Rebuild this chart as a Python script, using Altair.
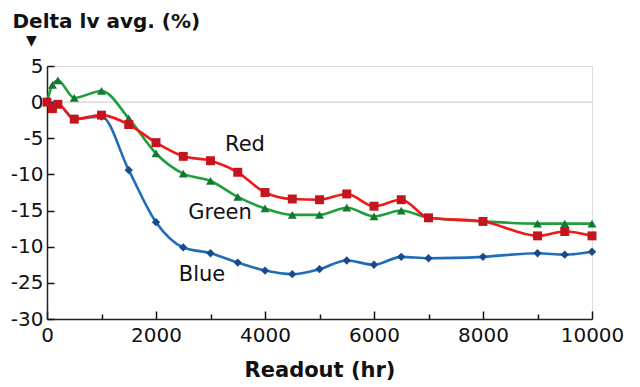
import altair as alt
import pandas as pd

hours = [0, 100, 200, 500, 1000, 1500, 2000, 2500, 3000, 3500, 4000, 4500,
         5000, 5500, 6000, 6500, 7000, 8000, 9000, 9500, 10000]
red = [0, -0.9, -0.3, -2.35, -1.8, -3.1, -5.6, -7.5, -8.1, -9.7, -12.5, -13.4,
       -13.5, -12.7, -14.4, -13.5, -16.0, -16.5, -18.5, -17.9, -18.5]
green = [0, 2.4, 3.0, 0.6, 1.55, -2.25, -7.1, -9.9, -10.9, -13.1, -14.7, -15.6,
         -15.6, -14.6, -15.8, -15.0, -16.0, -16.5, -16.8, -16.8, -16.8]
blue = [0, -0.4, -0.3, -2.3, -2.0, -9.4, -16.6, -20.1, -20.9, -22.2, -23.3, -23.8,
        -23.1, -21.9, -22.5, -21.4, -21.6, -21.4, -20.9, -21.1, -20.7]

label_text = ["Red", "Green", "Blue"]
label_x = [3633, 3174, 2844]
label_y = [-5.9, -15.3, -23.9]

y_ticks = [5, 0, -5, -10, -15, -20, -25, -30]
x_major = [0, 2000, 4000, 6000, 8000, 10000]
x_minor = [1000, 3000, 5000, 7000, 9000]

FONT = "DejaVu Sans"
xs = alt.Scale(domain=[0, 10000], nice=False, zero=False)
ys = alt.Scale(domain=[-30, 5], nice=False, zero=False)

series = [
    ("Blue", blue, "#1f6db8", "#1a4a8c", "diamond", 70),
    ("Green", green, "#1f9e3c", "#127a30", "triangle-up", 80),
    ("Red", red, "#f01818", "#c4141e", "square", 80),
]

layers = []

zero = alt.Chart(pd.DataFrame({"z": [0]})).mark_rule(color="#c8c8c8", strokeWidth=1).encode(
    y=alt.Y("z:Q", scale=ys, axis=None)
)
layers.append(zero)

for i, (name, vals, lc, mc, shape, size) in enumerate(series):
    df = pd.DataFrame({"hr": hours, "v": vals})
    if i == 0:
        xax = alt.Axis(orient="bottom", values=x_major, offset=-8, tickSize=8, tickWidth=1.5,
                       tickColor="#111", domain=False, grid=False, labelFlush=False,
                       labelExpr="toString(datum.value)", labelFont=FONT, labelFontSize=20,
                       labelColor="#111", labelPadding=6,
                       title="Readout (hr)", titleFont=FONT, titleFontSize=21,
                       titleFontWeight="bold", titleColor="#111", titleY=65,
                       titleBaseline="alphabetic")
        yax = alt.Axis(orient="left", values=y_ticks, offset=-7, tickSize=7, tickWidth=1.5,
                       tickColor="#111", domain=False, grid=False, labelFlush=False,
                       labelExpr="datum.value == -20 ? '-10' : toString(datum.value)",
                       labelFont=FONT, labelFontSize=20, labelColor="#111", labelPadding=4,
                       title="Delta lv avg. (%)", titleFont=FONT, titleFontSize=20,
                       titleFontWeight="bold", titleColor="#111", titleAngle=0,
                       titleAlign="left", titleBaseline="alphabetic", titleX=-42, titleY=-39)
    elif i == 1:
        xax = alt.Axis(orient="bottom", values=x_minor, offset=-5, tickSize=5, tickWidth=1.5,
                       tickColor="#111", domain=False, grid=False, labels=False, title=None)
        yax = alt.Axis(orient="left", values=y_ticks, offset=0, ticks=False, labels=False,
                       domain=True, domainColor="#222", domainWidth=1.5, grid=False,
                       title="▼", titleFont=FONT, titleFontSize=14, titleColor="#111",
                       titleAngle=0, titleAlign="center", titleBaseline="alphabetic",
                       titleX=-16, titleY=-22)
    else:
        xax = None
        yax = None
    line = alt.Chart(df).mark_line(color=lc, strokeWidth=2.6, interpolate="monotone").encode(
        x=alt.X("hr:Q", scale=xs, axis=xax),
        y=alt.Y("v:Q", scale=ys, axis=yax),
    )
    pts = alt.Chart(df).mark_point(shape=shape, size=size, filled=True, color=mc, opacity=1).encode(
        x=alt.X("hr:Q", scale=xs, axis=None),
        y=alt.Y("v:Q", scale=ys, axis=None),
    )
    layers.append(line)
    layers.append(pts)

labels_df = pd.DataFrame({"t": label_text, "x": label_x, "y": label_y})
labels = alt.Chart(labels_df).mark_text(font=FONT, fontSize=21, color="#111",
                                        align="center", baseline="middle").encode(
    x=alt.X("x:Q", scale=xs, axis=alt.Axis(orient="bottom", offset=0, ticks=False, labels=False,
                                            domain=True, domainColor="#222", domainWidth=1.5,
                                            grid=False, title=None)),
    y=alt.Y("y:Q", scale=ys, axis=None),
    text="t:N",
)
layers.append(labels)

chart = alt.layer(*layers).resolve_axis(x="independent", y="independent").properties(
    width=545, height=253,
    autosize=alt.AutoSizeParams(type="none"),
    padding={"left": 39, "top": 58, "right": 40, "bottom": 64},
).configure_view(stroke="#777", strokeWidth=1.5).configure(background="white")

chart.save("out.html", embed_options={"renderer": "svg", "actions": False})
